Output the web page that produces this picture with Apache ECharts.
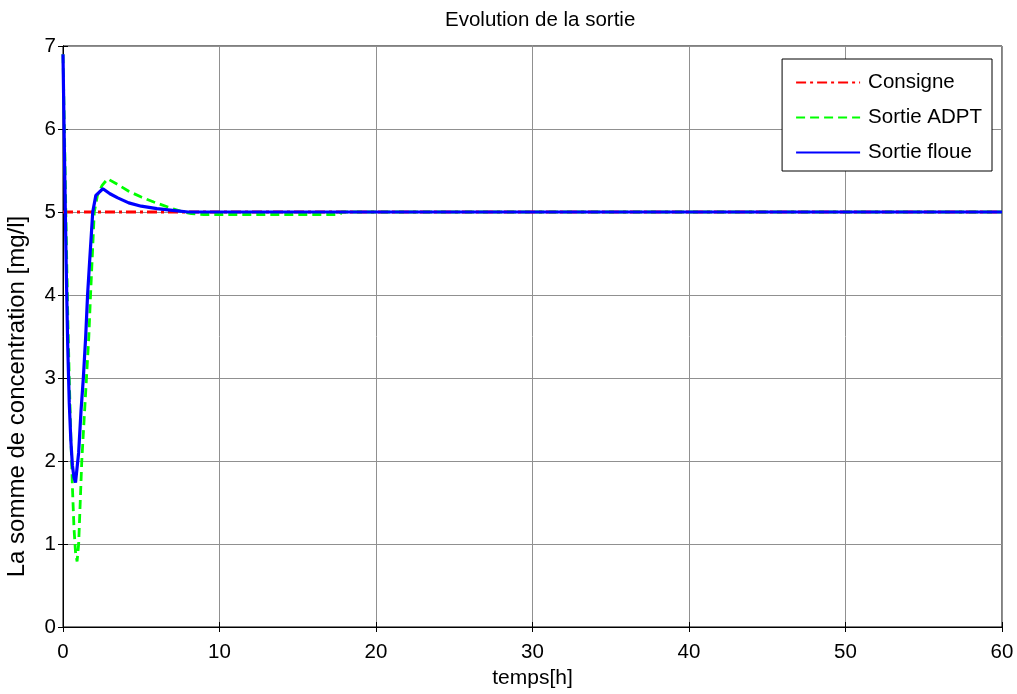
<!DOCTYPE html>
<html><head><meta charset="utf-8">
<script src="https://cdn.jsdelivr.net/npm/echarts@6/dist/echarts.min.js"></script>
<style>html,body{margin:0;padding:0;background:#fff}#c{width:1017px;height:694px}</style>
</head><body><div id="c"></div>
<script>
// Data
const consigne = [[0,5],[60,5]];
const sortieADPT = [[0,6.9],[0.1,5.9],[0.2,4.8],[0.3,3.8],[0.4,3.0],[0.5,2.3],[0.6,1.7],[0.7,1.2],[0.8,0.9],[0.9,0.79],[1.0,1.0],[1.1,1.5],[1.2,2.0],[1.35,2.5],[1.5,3.0],[1.65,3.5],[1.76,4.0],[1.88,4.5],[2.0,5.0],[2.2,5.2],[2.5,5.32],[2.85,5.4],[3.5,5.33],[4.2,5.25],[5.0,5.18],[5.8,5.12],[6.7,5.06],[7.5,5.01],[8.2,4.98],[9,4.97],[12,4.97],[15,4.97],[17.7,4.97],[17.8,5.0],[30,5.0],[45,5.0],[60,5.0]];
const sortieFloue = [[0,6.9],[0.1,5.6],[0.2,4.4],[0.3,3.4],[0.4,2.7],[0.5,2.25],[0.6,1.95],[0.7,1.8],[0.8,1.74],[0.9,1.76],[1.0,2.1],[1.15,2.6],[1.3,3.0],[1.45,3.5],[1.57,4.0],[1.7,4.4],[1.9,5.0],[2.1,5.2],[2.55,5.28],[3.0,5.22],[3.5,5.17],[4.2,5.11],[5.0,5.07],[6.0,5.04],[7.0,5.02],[8.0,5.0],[20,5.0],[40,5.0],[60,5.0]];
const xTicks = [0,10,20,30,40,50,60];
const yTicks = [0,1,2,3,4,5,6,7];

const font = 'Liberation Sans, Arial, sans-serif';
const chart = echarts.init(document.getElementById('c'));
chart.setOption({
  animation:false,
  backgroundColor:'#fff',
  title:{text:'Evolution de la sortie',left:440,top:5,textStyle:{fontFamily:font,fontSize:20.5,fontWeight:'normal',color:'#000'}},
  grid:{left:63,right:15,top:46,bottom:67,show:true,borderColor:'#000',borderWidth:1,outerBoundsMode:'none',containLabel:false},
  legend:{
    orient:'vertical',right:25,top:59,itemWidth:64,itemHeight:12,itemGap:14,
    backgroundColor:'#fff',borderColor:'#000',borderWidth:1,padding:[13,10,8,13],
    itemStyle:{color:'rgba(0,0,0,0)',borderColor:'rgba(0,0,0,0)',borderWidth:0,opacity:0},
    textStyle:{fontFamily:font,fontSize:20.5,color:'#000',padding:[0,0,0,3]},
    data:['Consigne','Sortie ADPT','Sortie floue']
  },
  xAxis:[{
    type:'value',min:0,max:60,interval:10,
    name:'temps[h]',nameLocation:'middle',nameGap:41,
    nameTextStyle:{fontFamily:font,fontSize:21,color:'#000'},
    axisLine:{show:true,onZero:false,lineStyle:{color:'#000'}},
    axisTick:{show:true,inside:true,length:5,lineStyle:{color:'#000'}},
    axisLabel:{fontFamily:font,fontSize:20.5,color:'#000',margin:15},
    splitLine:{show:true,lineStyle:{color:'#909090',width:1}}
  },{
    type:'value',min:0,max:60,interval:10,position:'top',
    axisLine:{show:true,lineStyle:{color:'#000'}},
    axisTick:{show:true,inside:true,length:5,lineStyle:{color:'#000'}},
    axisLabel:{show:false},splitLine:{show:false}
  }],
  yAxis:[{
    type:'value',min:0,max:7,interval:1,
    name:'La somme de concentration [mg/l]',nameLocation:'middle',nameGap:34,
    nameTextStyle:{fontFamily:font,fontSize:24,color:'#000',padding:[0,120,0,0]},
    axisLine:{show:true,onZero:false,lineStyle:{color:'#000'}},
    axisTick:{show:true,inside:true,length:5,lineStyle:{color:'#000'}},
    axisLabel:{fontFamily:font,fontSize:20.5,color:'#000',margin:7},
    splitLine:{show:true,lineStyle:{color:'#909090',width:1}}
  },{
    type:'value',min:0,max:7,interval:1,position:'right',
    axisLine:{show:true,lineStyle:{color:'#000'}},
    axisTick:{show:true,inside:true,length:5,lineStyle:{color:'#000'}},
    axisLabel:{show:false},splitLine:{show:false}
  }],
  series:[
    {name:'Consigne',type:'line',data:consigne,showSymbol:false,symbol:'none',color:'#ff0000',
     lineStyle:{color:'#ff0000',width:2.8,type:[10,4,3,4]},z:2},
    {name:'Sortie ADPT',type:'line',data:sortieADPT,showSymbol:false,symbol:'none',color:'#00ff00',
     lineStyle:{color:'#00ff00',width:2.8,type:[9,5]},z:3},
    {name:'Sortie floue',type:'line',data:sortieFloue,showSymbol:false,symbol:'none',color:'#0000ff',
     lineStyle:{color:'#0000ff',width:3.2},z:4}
  ]
});
</script></body></html>
